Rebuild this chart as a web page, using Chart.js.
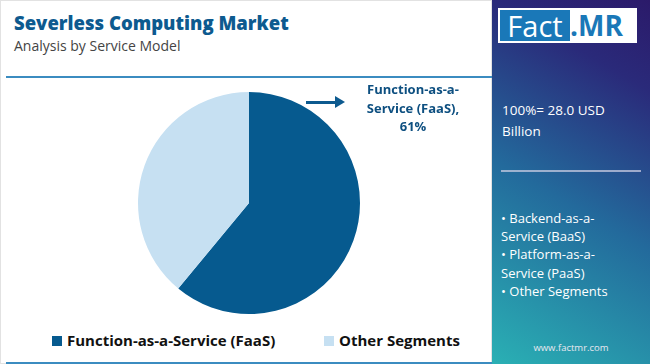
<!DOCTYPE html>
<html>
<head>
<meta charset="utf-8">
<script src="https://cdn.jsdelivr.net/npm/chart.js@4.4.1/dist/chart.umd.min.js"></script>
<style>
  html, body { margin: 0; padding: 0; }
  body { width: 650px; height: 364px; position: relative; overflow: hidden; background: #fff; font-family: "Open Sans", Lato, sans-serif; }
  .card { position: absolute; left: 0; top: 0; width: 492px; height: 364px; border: 1px solid #e2e2e2; box-sizing: border-box; }
  .title { position: absolute; left: 13px; top: 9px; font-size: 18.5px; font-weight: 800; color: #0d5a8f; }
  .subtitle { position: absolute; left: 13px; top: 35px; font-size: 14px; color: #444; }
  .rule { position: absolute; left: 5px; width: 488px; height: 2px; background: #3b8cc0; }
  #pieWrap { position: absolute; left: 127px; top: 81px; width: 242px; height: 242px; }
  .callout { position: absolute; left: 359px; top: 79px; width: 106px; text-align: center; font-size: 13px; font-weight: 700; line-height: 18.5px; color: #0d4f80; }
  .arrow { position: absolute; left: 305px; top: 100px; width: 30px; height: 3px; background: #0d5a8f; }
  .arrowhead { position: absolute; left: 334px; top: 95px; width: 0; height: 0; border-top: 6.5px solid transparent; border-bottom: 6.5px solid transparent; border-left: 10px solid #0d5a8f; }
  .legend { position: absolute; top: 329px; left: 51px; font-size: 15px; font-weight: 700; color: #111; }
  .legend span.item { position: absolute; white-space: nowrap; }
  .legend i { display: inline-block; width: 10px; height: 10px; margin-right: 5px; vertical-align: 0px; }
  .panel { position: absolute; left: 492px; top: 0; width: 158px; height: 364px; background: linear-gradient(30deg, #2ab0b4 0%, #236a9c 45%, #2a2a7a 80%, #2b1a6a 100%); color: #fff; }
  .logo { position: absolute; left: 6px; top: 8px; width: 139px; height: 35px; background: #fff; }
  .logo .fact { position: absolute; left: 2px; top: 2px; width: 70px; height: 31px; background: #1a78b8; color: #fff; font-size: 29px; line-height: 31px; text-align: center; font-family: "Open Sans", sans-serif; }
  .logo .mr { position: absolute; left: 72px; top: 2px; font-size: 28px; line-height: 31px; font-weight: 700; color: #1a78b8; font-family: "Open Sans", sans-serif; }
  .total { position: absolute; left: 10px; top: 100px; font-size: 13.5px; line-height: 21px; }
  .sep { position: absolute; left: 9px; top: 170px; width: 140px; height: 2px; background: rgba(210,210,230,0.7); }
  .segs { position: absolute; left: 9px; top: 209px; font-size: 13px; line-height: 18.2px; }
  .site { position: absolute; left: 0; width: 158px; top: 341px; text-align: center; font-size: 9.5px; color: #e8e8f0; }
</style>
</head>
<body>
<div class="card">
  <div class="title">Severless Computing Market</div>
  <div class="subtitle">Analysis by Service Model</div>
  <div class="rule" style="top:75px"></div>
  <div class="rule" style="top:361px"></div>
  <div id="pieWrap"><canvas id="pie"></canvas></div>
  <div class="arrow"></div><div class="arrowhead"></div>
  <div class="callout" id="callout"></div>
  <div class="legend" id="legend"></div>
</div>
<div class="panel">
  <div class="logo"><div class="fact">Fact</div><div class="mr">.MR</div></div>
  <div class="total" id="total"></div>
  <div class="sep"></div>
  <div class="segs" id="segs"></div>
  <div class="site">www.factmr.com</div>
</div>
<script>
const categories = ["Function-as-a-Service (FaaS)", "Other Segments"];
const shares = [61, 39];
const colors = ["#065a8f", "#c6e0f2"];
const totalLabel = "100%= 28.0 USD Billion";
const otherSegments = ["Backend-as-a-Service (BaaS)", "Platform-as-a-Service (PaaS)", "Other Segments"];

document.getElementById("callout").innerHTML = "Function-as-a-<br>Service (FaaS),<br>" + shares[0] + "%";
document.getElementById("total").innerHTML = "100%= 28.0 USD<br>Billion";
document.getElementById("segs").innerHTML =
  "• Backend-as-a-<br>Service (BaaS)<br>• Platform-as-a-<br>Service (PaaS)<br>• Other Segments";

const legendX = [0, 272];
const legend = document.getElementById("legend");
categories.forEach((c, i) => {
  const s = document.createElement("span");
  s.className = "item";
  s.style.left = legendX[i] + "px";
  s.innerHTML = '<i style="background:' + colors[i] + '"></i>' + c;
  legend.appendChild(s);
});

new Chart(document.getElementById("pie"), {
  type: "pie",
  data: {
    labels: categories,
    datasets: [{ data: shares, backgroundColor: colors, borderWidth: 0 }]
  },
  options: {
    responsive: true,
    maintainAspectRatio: true,
    animation: false,
    layout: { padding: 10 },
    plugins: { legend: { display: false }, tooltip: { enabled: false } }
  }
});
</script>
</body>
</html>
